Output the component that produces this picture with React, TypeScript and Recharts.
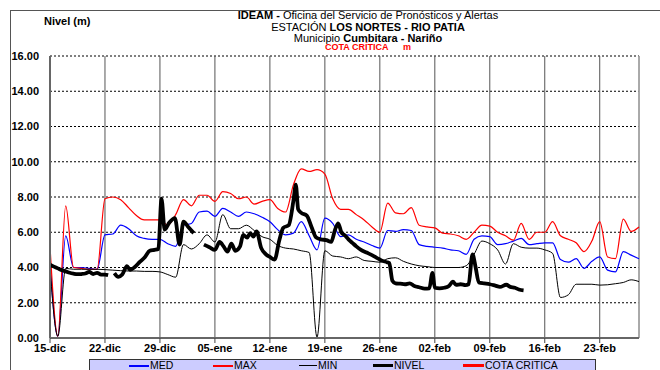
import { CartesianGrid, Line, LineChart, ReferenceLine, XAxis, YAxis } from "recharts"

// Days counted from 15-dic (day 0) to 28-feb (day 75)
const weekTicks = [0, 7, 14, 21, 28, 35, 42, 49, 56, 63, 70]
const weekLabels = ["15-dic", "22-dic", "29-dic", "05-ene", "12-ene", "19-ene", "26-ene", "02-feb", "09-feb", "16-feb", "23-feb"]
const levelTicks = [0, 2, 4, 6, 8, 10, 12, 14, 16]

// daily historic statistics (m), day 0..75
const maxLevel = [
  5.2, 0.1, 7.5, 4.0, 3.95, 3.9, 3.9, 7.9, 8.0, 7.85, 7.4, 6.95, 6.7, 6.7, 6.7, 6.4, 7.0, 7.85, 7.5, 8.1,
  8.1, 7.75, 8.3, 8.2, 7.9, 8.0, 7.6, 7.75, 7.85, 7.35, 7.15, 8.7, 9.6, 9.45, 9.55, 9.3, 7.9, 7.3, 7.3, 7.0,
  6.7, 6.3, 6.0, 7.65, 7.1, 7.05, 7.4, 6.4, 6.3, 6.25, 5.95, 5.9, 5.8, 5.6, 6.0, 6.4, 6.35, 6.0, 5.8, 5.55,
  6.5, 5.6, 6.0, 6.0, 6.6, 5.8, 5.6, 5.4, 4.9, 5.5, 6.6, 4.6, 4.5, 6.75, 6.05, 6.3,
]
const medLevel = [
  4.2, 0.1, 5.8, 4.0, 4.0, 3.95, 3.9, 5.85, 5.9, 6.4, 6.2, 5.8, 5.65, 5.6, 5.6, 5.35, 5.2, 6.4, 6.5, 7.15,
  7.2, 6.9, 7.35, 7.15, 6.9, 7.15, 7.05, 6.85, 6.6, 6.15, 5.85, 5.95, 6.6, 5.8, 5.0, 6.8, 6.5, 5.75, 5.85, 5.6,
  5.45, 5.25, 5.1, 6.1, 6.05, 6.15, 6.1, 5.3, 5.2, 5.15, 5.1, 5.0, 4.95, 4.75, 5.6, 5.8, 5.75, 5.3, 5.35, 5.5,
  5.65, 5.3, 5.35, 5.4, 5.4, 4.45, 4.3, 4.5, 3.95, 4.35, 4.6, 3.85, 3.75, 4.9, 4.7, 4.5,
]
const minLevel = [
  4.0, 0.1, 3.95, 3.9, 3.9, 3.9, 3.9, 3.88, 3.85, 3.82, 3.8, 3.8, 3.78, 3.78, 3.75, 3.6, 3.45, 5.3, 5.05, 5.35,
  5.85, 5.45, 7.0, 6.2, 6.2, 6.4, 6.1, 5.75, 5.6, 5.25, 5.1, 5.05, 4.95, 4.85, 0.05, 4.95, 4.65, 4.6, 4.5, 4.6,
  4.4, 4.35, 4.3, 4.5, 4.55, 4.35, 4.2, 4.1, 4.05, 4.0, 4.0, 4.0, 4.0, 4.1, 4.75, 5.5, 5.35, 5.0, 4.2, 5.35,
  5.15, 5.1, 5.1, 5.0, 4.8, 2.3, 2.45, 3.05, 3.05, 3.05, 3.0, 3.02, 3.08, 3.15, 3.3, 3.2,
]

// observed level (m), irregular readings; null = no reading
const nivelDays = [
  0, 0.5, 1, 1.5, 2, 2.5, 3, 3.5, 4, 4.5, 5, 5.5, 6, 6.5, 7, 7.4, 7.8,
  8.2, 8.7, 9.2, 9.8, 10.2, 10.8, 11.4, 12.1, 12.7, 13.3, 13.8, 14.2, 14.6, 15.2, 15.9, 16.5, 17.0, 17.6, 18.3, 18.9,
  19.6, 20.3, 21.0, 21.6, 22.1, 22.6, 23.1, 23.6, 24.2, 24.6, 25.1, 25.5, 25.9, 26.3, 26.9, 27.5, 28.0, 28.6,
  29.2, 29.7, 30.4, 31.0, 31.3, 31.6, 32.0, 32.7, 33.3, 33.9, 34.5, 35.2, 35.8, 36.3, 36.7, 37.1, 37.6, 38.0,
  38.5, 39.0, 39.6, 40.3, 41.0, 41.6, 42.2, 42.9, 43.2, 43.6, 44.0, 44.6, 45.2, 45.8, 46.4, 47.0, 47.7, 48.3,
  48.7, 49.0, 49.6, 50.2, 50.8, 51.3, 51.7, 52.3, 52.9, 53.3, 53.8, 54.2, 54.6, 55.3, 56.0, 56.7, 57.3, 58.1,
  58.6, 59.2, 59.7, 60.3,
]
const nivelLevel = [
  4.15, 4.05, 3.95, 3.85, 3.78, 3.7, 3.65, 3.62, 3.63, 3.66, 3.75, 3.63, 3.7, 3.6, 3.6, 3.57, null,
  3.68, 3.47, 3.6, 4.07, 3.87, 4.03, 4.3, 4.6, 4.95, 5.0, 5.05, 7.9, 6.15, 6.55, 6.8, 5.3, 6.6, 6.3, 5.95, null,
  5.3, 5.15, 5.0, 5.45, 5.2, 4.9, 5.35, 4.95, 5.2, 5.85, 5.7, 5.95, 5.75, 6.05, 5.1, 4.75, 4.6, 4.45,
  5.55, 6.25, 6.4, 7.8, 8.7, 7.3, 7.1, 6.95, 6.3, 5.7, 5.6, 5.55, 5.45, 6.15, 6.5, 6.0, 5.8, 5.6,
  5.4, 5.2, 5.0, 4.85, 4.7, 4.55, 4.4, 4.3, 4.25, 3.25, 3.1, 3.08, 3.05, 3.1, 2.95, 2.88, 2.8, 2.82,
  3.7, 2.85, 2.82, 2.85, 2.95, 3.2, 3.02, 3.05, 3.0, 3.05, 4.75, 4.0, 3.15, 3.1, 3.05, 2.97, 2.9, 3.02,
  2.9, 2.85, 2.75, 2.7,
]

const statsData = maxLevel.map((v, i) => ({ d: i, max: v, med: medLevel[i], min: minLevel[i] }))
const nivelData = nivelDays.map((d, i) => ({ d, nivel: nivelLevel[i] }))

const font = "'Liberation Sans', Arial, sans-serif"

const legendItems = [
  { name: "MED", color: "#0000ff", width: 1.5, left: 39, len: 20 },
  { name: "MAX", color: "#ff0000", width: 1.5, left: 123, len: 20 },
  { name: "MIN", color: "#000000", width: 1, left: 209, len: 18 },
  { name: "NIVEL", color: "#000000", width: 3, left: 283, len: 20 },
  { name: "COTA CRITICA", color: "#ff0000", width: 3, left: 373, len: 21 },
]

function TitleLine({ top, size, lh, children, color = "#000" }: any) {
  return (
    <div
      style={{
        position: "absolute",
        left: 168,
        width: 400,
        top,
        textAlign: "center",
        fontSize: size,
        lineHeight: `${lh}px`,
        height: lh,
        color,
        whiteSpace: "pre",
      }}
    >
      {children}
    </div>
  )
}

export default function App() {
  return (
    <div
      style={{
        position: "absolute",
        left: 0,
        top: 0,
        width: 660,
        height: 370,
        overflow: "hidden",
        background: "#fff",
        fontFamily: font,
      }}
    >
      {/* outer frame */}
      <div
        style={{
          position: "absolute",
          left: 10,
          top: 10,
          width: 700,
          height: 400,
          borderLeft: "1.5px solid #555",
          borderTop: "1.5px solid #555",
        }}
      />

      <LineChart
        width={660}
        height={370}
        data={statsData}
        margin={{ top: 56, right: 21, bottom: 12, left: 10 }}
        style={{ position: "absolute", left: 0, top: 0 }}
      >
        <CartesianGrid horizontal vertical={false} stroke="#000" strokeDasharray="2 2" />
        <CartesianGrid horizontal={false} vertical stroke="#555" />
        <XAxis
          dataKey="d"
          type="number"
          domain={[0, 75]}
          ticks={weekTicks}
          interval={0}
          tickFormatter={(v) => weekLabels[weekTicks.indexOf(v)]}
          height={20}
          tickSize={5}
          tickMargin={1}
          tickLine={{ stroke: "#444" }}
          axisLine={{ stroke: "#666", strokeWidth: 2 }}
          tick={{ fontSize: 11, fontWeight: 700, fill: "#000", fontFamily: font }}
        />
        <YAxis
          type="number"
          domain={[0, 16]}
          ticks={levelTicks}
          interval={0}
          width={40}
          tickSize={0}
          tickMargin={11}
          tickLine={false}
          tickFormatter={(v) => v.toFixed(2)}
          axisLine={{ stroke: "#666", strokeWidth: 2 }}
          tick={{ fontSize: 11, fontWeight: 700, fill: "#000", fontFamily: font }}
        />
        <ReferenceLine x={75} stroke="#aaa" strokeWidth={1.5} />
        <Line type="monotone" dataKey="med" stroke="#0000ff" strokeWidth={1.2} dot={false} activeDot={false} isAnimationActive={false} />
        <Line type="monotone" dataKey="max" stroke="#ff0000" strokeWidth={1.2} dot={false} activeDot={false} isAnimationActive={false} />
        <Line type="monotone" dataKey="min" stroke="#000000" strokeWidth={1} dot={false} activeDot={false} isAnimationActive={false} />
        <Line
          data={nivelData}
          type="monotone"
          dataKey="nivel"
          stroke="#000000"
          strokeWidth={3.8}
          strokeLinejoin="round"
          dot={false}
          activeDot={false}
          connectNulls={false}
          isAnimationActive={false}
        />
      </LineChart>

      {/* titles */}
      <div style={{ position: "absolute", left: 44, top: 15, fontSize: 11, fontWeight: 700, lineHeight: "13px" }}>Nivel (m)</div>
      <TitleLine top={10} size={11} lh={11}>
        <b>IDEAM - </b>Oficina del Servicio de Pronósticos y Alertas
      </TitleLine>
      <TitleLine top={21.5} size={11} lh={11}>
        ESTACIÓN <b>LOS NORTES - RIO PATIA</b>
      </TitleLine>
      <TitleLine top={32.5} size={11} lh={10}>
        Municipio <b>Cumbitara - Nariño</b>
      </TitleLine>
      <TitleLine top={43} size={9} lh={9} color="#ff0000">
        <b>{"COTA CRÍTICA      m"}</b>
      </TitleLine>

      {/* legend */}
      <div
        style={{
          position: "absolute",
          left: 89,
          top: 359,
          width: 505,
          height: 20,
          background: "#ccccff",
          border: "1px solid #333",
        }}
      >
        {legendItems.map((it) => (
          <div key={it.name}>
            <div
              style={{
                position: "absolute",
                left: it.left,
                top: Math.round(5.5 - it.width / 2),
                width: it.len,
                height: it.width,
                background: it.color,
              }}
            />
            <div
              style={{
                position: "absolute",
                left: it.left + it.len + 1,
                top: 0.5,
                fontSize: 10.5,
                lineHeight: "9px",
                height: 9,
                color: "#000",
              }}
            >
              {it.name}
            </div>
          </div>
        ))}
      </div>
    </div>
  )
}
